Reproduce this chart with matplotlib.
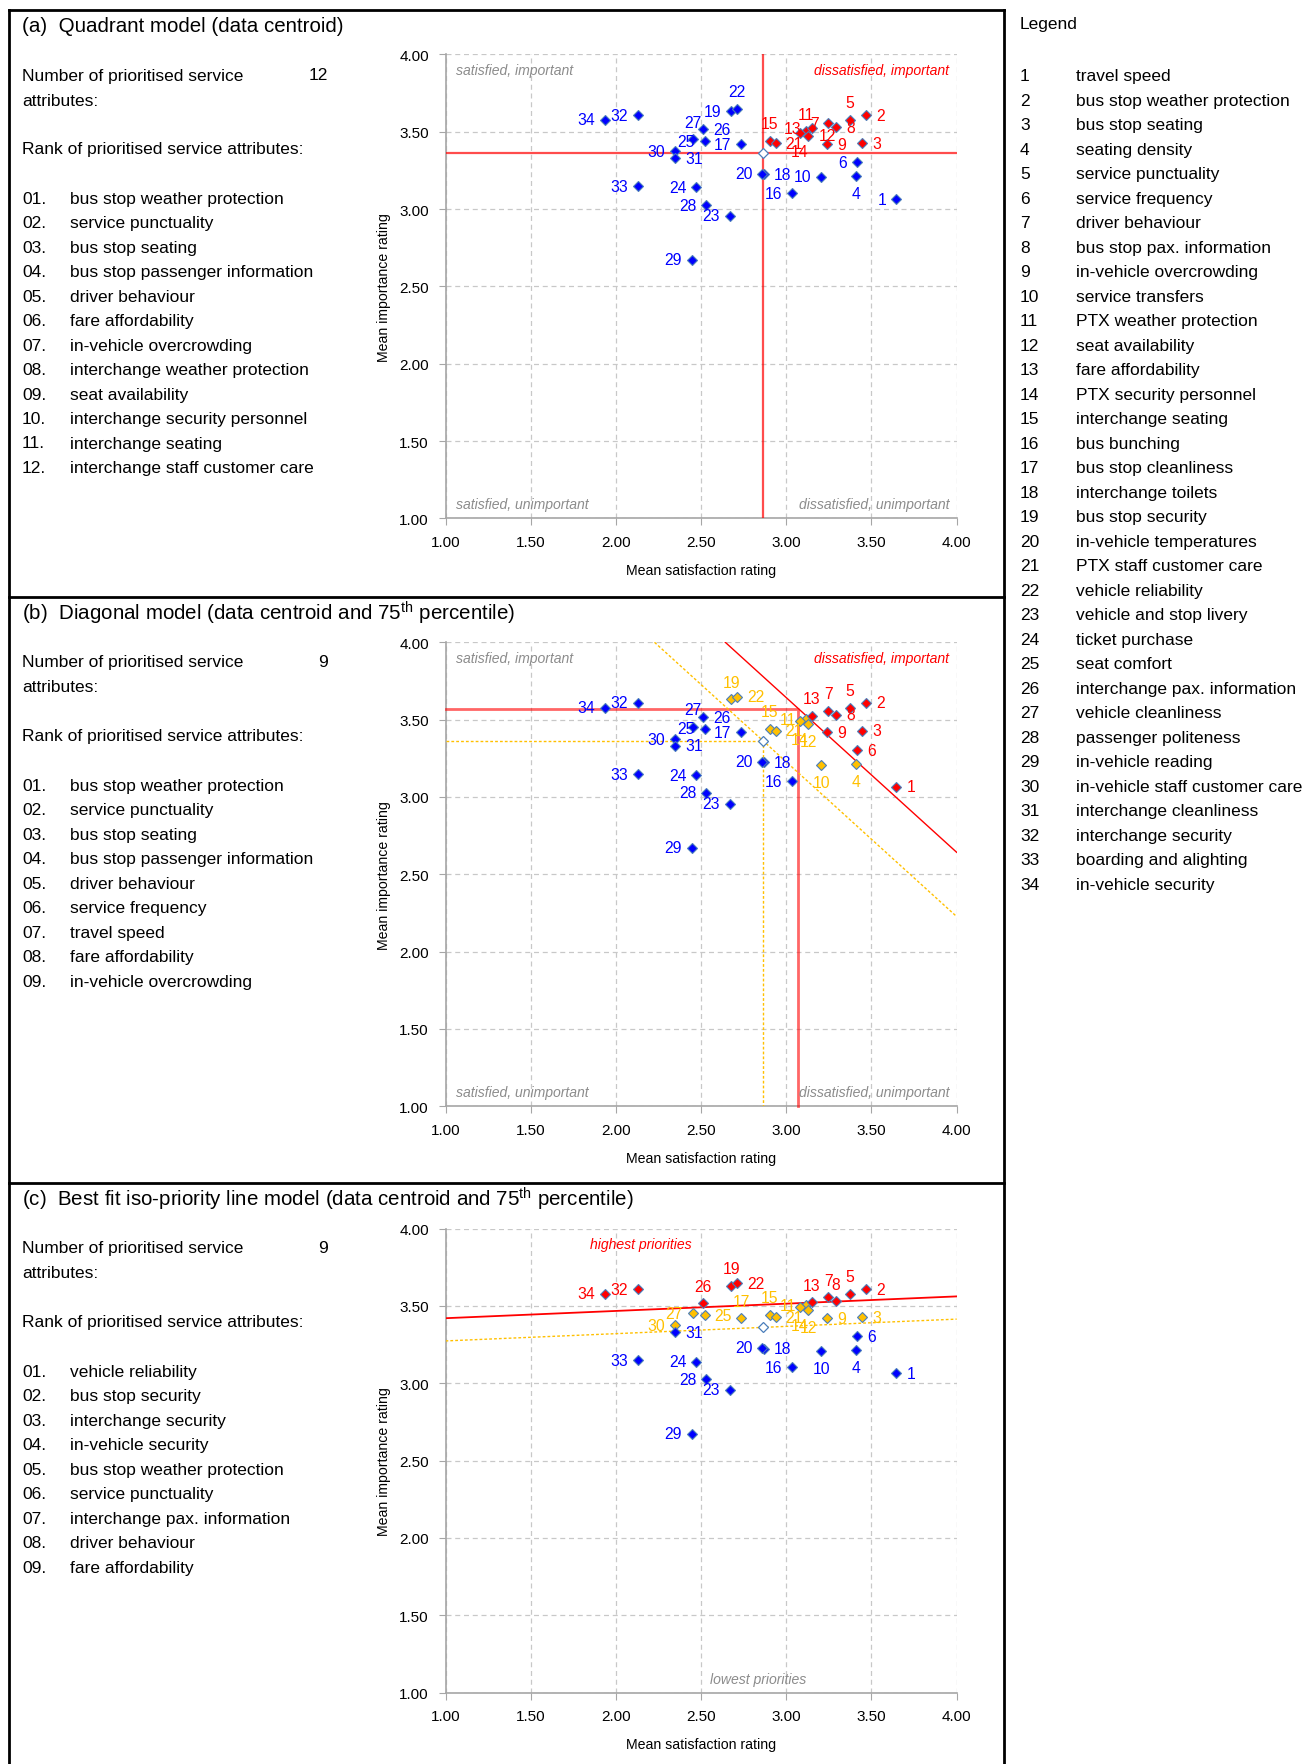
import matplotlib
matplotlib.use('Agg')
import matplotlib.pyplot as plt
from matplotlib import font_manager
from matplotlib.lines import Line2D
from matplotlib.ticker import FormatStrFormatter
import numpy as np

installed = {f.name for f in font_manager.fontManager.ttflist}
FONT = 'Liberation Sans Narrow' if 'Liberation Sans Narrow' in installed else 'Liberation Sans'
NARROW = FONT == 'Liberation Sans Narrow'
plt.rcParams['font.family'] = [FONT, 'DejaVu Sans']
plt.rcParams['mathtext.fontset'] = 'custom'
plt.rcParams['mathtext.rm'] = FONT
plt.rcParams['mathtext.it'] = FONT + ':italic'

# service attributes (id, name) and mean ratings
attr_ids = list(range(1, 35))
attr_names = [
    'travel speed', 'bus stop weather protection', 'bus stop seating', 'seating density',
    'service punctuality', 'service frequency', 'driver behaviour', 'bus stop pax. information',
    'in-vehicle overcrowding', 'service transfers', 'PTX weather protection', 'seat availability',
    'fare affordability', 'PTX security personnel', 'interchange seating', 'bus bunching',
    'bus stop cleanliness', 'interchange toilets', 'bus stop security', 'in-vehicle temperatures',
    'PTX staff customer care', 'vehicle reliability', 'vehicle and stop livery', 'ticket purchase',
    'seat comfort', 'interchange pax. information', 'vehicle cleanliness', 'passenger politeness',
    'in-vehicle reading', 'in-vehicle staff customer care', 'interchange cleanliness',
    'interchange security', 'boarding and alighting', 'in-vehicle security',
]
satisfaction = [3.646, 3.470, 3.444, 3.409, 3.372, 3.417, 3.247, 3.292, 3.241, 3.205,
                3.117, 3.129, 3.149, 3.078, 2.902, 3.033, 2.736, 2.867, 2.677, 2.859,
                2.937, 2.712, 2.671, 2.472, 2.521, 2.511, 2.452, 2.530, 2.446, 2.348,
                2.348, 2.131, 2.131, 1.937]
importance = [3.065, 3.608, 3.427, 3.216, 3.578, 3.302, 3.556, 3.530, 3.420, 3.209,
              3.504, 3.474, 3.524, 3.491, 3.442, 3.103, 3.420, 3.224, 3.631, 3.228,
              3.427, 3.647, 2.957, 3.140, 3.440, 3.517, 3.453, 3.026, 2.672, 3.373,
              3.330, 3.608, 3.147, 3.578]

# data centroid and 75th percentile thresholds
centroid_x = float(np.mean(satisfaction))
centroid_y = float(np.mean(importance))
p75_x, p75_y = 3.071, 3.571
# iso-priority lines: y = a + b*x
iso_slope = 0.047
iso_hi_at1 = 3.420

# which attributes are flagged in each model
red_a = [2, 5, 3, 8, 7, 13, 9, 11, 12, 14, 15, 21]
orange_a = []
red_b = [2, 5, 3, 8, 7, 6, 1, 13, 9]
orange_b = [19, 22, 15, 11, 21, 14, 12, 10, 4]
red_c = [22, 19, 32, 34, 2, 5, 26, 7, 13, 8]
orange_c = [27, 25, 17, 15, 21, 11, 14, 12, 9, 3, 30]

rank_names_a = ['bus stop weather protection', 'service punctuality', 'bus stop seating',
                'bus stop passenger information', 'driver behaviour', 'fare affordability',
                'in-vehicle overcrowding', 'interchange weather protection', 'seat availability',
                'interchange security personnel', 'interchange seating',
                'interchange staff customer care']
rank_names_b = ['bus stop weather protection', 'service punctuality', 'bus stop seating',
                'bus stop passenger information', 'driver behaviour', 'service frequency',
                'travel speed', 'fare affordability', 'in-vehicle overcrowding']
rank_names_c = ['vehicle reliability', 'bus stop security', 'interchange security',
                'in-vehicle security', 'bus stop weather protection', 'service punctuality',
                'interchange pax. information', 'driver behaviour', 'fare affordability']
count_a, count_b, count_c = 12, 9, 9

# label placement around each marker (default: left)
place_a = {22: 't', 27: 't', 26: 'r', 31: 'r', 18: 'r', 4: 'b', 2: 'r', 5: 't', 3: 'r',
           9: 'r', 8: 'r', 11: 't', 14: 'b', 12: 'r', 15: 't', 21: 'r'}
place_b = {19: 't', 22: 'r', 15: 't', 21: 'r', 14: 'b', 12: 'b', 13: 't', 7: 't', 5: 't',
           8: 'r', 2: 'r', 9: 'r', 3: 'r', 6: 'r', 4: 'b', 10: 'b', 1: 'r', 27: 't',
           26: 'r', 31: 'r', 18: 'r'}
place_c = {26: 't', 19: 't', 22: 'r', 25: 'r', 17: 't', 15: 't', 21: 'r', 14: 'b', 12: 'b',
           13: 't', 7: 't', 8: 't', 5: 't', 2: 'r', 9: 'r', 3: 'r', 6: 'r', 4: 'b', 10: 'b',
           1: 'r', 31: 'r', 18: 'r'}

BLUE, RED, ORANGE = '#0000FF', '#FF0000', '#FFC000'
EDGE = '#4A7EBB'
GRAY_TXT = '#8C8C8C'

# font sizes (the regular face is wider, so shrink it to keep line widths)
k = 1.0 if NARROW else 0.82
BODY = 15.3 * k
TITLE = 18.0 * k
TICK = 13.4 * k
AXLAB = 12.4 * k
NOTE = 12.3 * k
PT = 13.8 * k

W, H = 1306, 1765
fig = plt.figure(figsize=(W / 100, H / 100), dpi=100)


def fx(x):
    return x / W


def fy(y):
    return 1 - y / H


def hline(x0, x1, y, lw=2.0):
    fig.add_artist(Line2D([fx(x0), fx(x1)], [fy(y), fy(y)], color='black', lw=lw))


def vline(x, y0, y1, lw=2.0):
    fig.add_artist(Line2D([fx(x), fx(x)], [fy(y0), fy(y1)], color='black', lw=lw))


# panel frames
hline(9, 1004, 11)
hline(9, 1004, 598)
hline(9, 1004, 1184)
vline(9, 11, H)
vline(1004, 11, H)

OFFS = {'l': (-10, 0, 'right', 'center'), 'r': (10, 0, 'left', 'center'),
        't': (0, 17, 'center', 'center'), 'b': (0, -18, 'center', 'center')}


def side_text(top, title, count, rank_names):
    fig.text(fx(22), fy(top + 15), title, fontsize=TITLE, va='center', ha='left')
    fig.text(fx(22), fy(top + 65), 'Number of prioritised service', fontsize=BODY, va='center')
    fig.text(fx(22), fy(top + 90), 'attributes:', fontsize=BODY, va='center')
    fig.text(fx(328), fy(top + 65), str(count), fontsize=BODY, va='center', ha='right')
    fig.text(fx(22), fy(top + 139), 'Rank of prioritised service attributes:', fontsize=BODY,
             va='center')
    for n, name in enumerate(rank_names):
        y = top + 188.5 + n * 24.45
        fig.text(fx(22), fy(y), f'{n + 1:02d}.', fontsize=BODY, va='center')
        fig.text(fx(70), fy(y), name, fontsize=BODY, va='center')


def scatter_panel(ax_top, red_ids, orange_ids, place):
    ax = fig.add_axes([fx(445.5), fy(ax_top + 464), fx(956.7) - fx(445.5), 464 / H])
    ax.set_xlim(1, 4)
    ax.set_ylim(1, 4)
    ticks = np.arange(1, 4.01, 0.5)
    ax.set_xticks(ticks)
    ax.set_yticks(ticks)
    ax.xaxis.set_major_formatter(FormatStrFormatter('%.2f'))
    ax.yaxis.set_major_formatter(FormatStrFormatter('%.2f'))
    ax.grid(True, color='#C8C8C8', lw=0.9, ls=(0, (4, 3)))
    ax.set_axisbelow(True)
    for s in ('top', 'right'):
        ax.spines[s].set_visible(False)
    for s in ('left', 'bottom'):
        ax.spines[s].set_color('#A6A6A6')
        ax.spines[s].set_linewidth(1.2)
    ax.tick_params(direction='out', length=5, color='#A6A6A6', labelsize=TICK, pad=7)

    fig.text(fx(701), fy(ax_top + 516), 'Mean satisfaction rating', fontsize=AXLAB,
             ha='center', va='center')
    fig.text(fx(384), fy(ax_top + 232), 'Mean importance rating', fontsize=AXLAB,
             ha='center', va='center', rotation=90)

    for i, x, y in zip(attr_ids, satisfaction, importance):
        if i in red_ids:
            c = RED
        elif i in orange_ids:
            c = ORANGE
        else:
            c = BLUE
        ax.plot(x, y, marker='D', ms=5.2, mfc=c, mec=EDGE, mew=0.8, ls='none', zorder=5)
        dx, dy, ha, va = OFFS[place.get(i, 'l')]
        ax.annotate(str(i), (x, y), xytext=(dx, dy), textcoords='offset pixels',
                    ha=ha, va=va, color=c, fontsize=PT, zorder=6)
    ax.plot(centroid_x, centroid_y, marker='D', ms=5.2, mfc='white', mec=EDGE, mew=0.9,
            ls='none', zorder=4)
    return ax


def quadrant_labels(ax):
    kw = dict(fontsize=NOTE, style='italic', va='center')
    ax.text(1.06, 3.90, 'satisfied, important', color=GRAY_TXT, ha='left', **kw)
    ax.text(3.955, 3.90, 'dissatisfied, important', color=RED, ha='right', **kw)
    ax.text(1.06, 1.095, 'satisfied, unimportant', color=GRAY_TXT, ha='left', **kw)
    ax.text(3.955, 1.095, 'dissatisfied, unimportant', color=GRAY_TXT, ha='right', **kw)


# (a) quadrant model
side_text(11, '(a)  Quadrant model (data centroid)', count_a, rank_names_a)
ax_a = scatter_panel(55.4, red_a, orange_a, place_a)
ax_a.axvline(centroid_x, color=RED, alpha=0.7, lw=1.6, zorder=3)
ax_a.axhline(centroid_y, color=RED, alpha=0.7, lw=1.6, zorder=3)
quadrant_labels(ax_a)

# (b) diagonal model
side_text(598, r'(b)  Diagonal model (data centroid and 75$^{\mathrm{th}}$ percentile)',
          count_b, rank_names_b)
ax_b = scatter_panel(643.3, red_b, orange_b, place_b)
ax_b.plot([1, p75_x, p75_x], [p75_y, p75_y, 1], color=RED, alpha=0.6, lw=2.0, zorder=3,
          clip_on=False)
ax_b.plot([1, centroid_x, centroid_x], [centroid_y, centroid_y, 1], color=ORANGE, lw=1.0,
          ls=(0, (2, 1.5)), zorder=3)
sum_hi = p75_x + p75_y
sum_lo = centroid_x + centroid_y
ax_b.plot([sum_hi - 4, 4], [4, sum_hi - 4], color=RED, lw=1.0, zorder=3)
ax_b.plot([sum_lo - 4, 4], [4, sum_lo - 4], color=ORANGE, lw=1.0, ls=(0, (2, 1.5)), zorder=3)
quadrant_labels(ax_b)

# (c) best fit iso-priority line model
side_text(1184, r'(c)  Best fit iso-priority line model (data centroid and 75$^{\mathrm{th}}$ percentile)',
          count_c, rank_names_c)
ax_c = scatter_panel(1229.5, red_c, orange_c, place_c)
xs = np.array([1.0, 4.0])
ax_c.plot(xs, iso_hi_at1 + iso_slope * (xs - 1), color=RED, lw=1.3, zorder=3)
ax_c.plot(xs, centroid_y + iso_slope * (xs - centroid_x), color=ORANGE, lw=1.0,
          ls=(0, (2, 1.5)), zorder=3)
ax_c.text(2.147, 3.90, 'highest priorities', color=RED, fontsize=NOTE, style='italic',
          ha='center', va='center')
ax_c.text(2.834, 1.09, 'lowest priorities', color=GRAY_TXT, fontsize=NOTE, style='italic',
          ha='center', va='center')

# attribute legend column
fig.text(fx(1020), fy(25), 'Legend', fontsize=BODY, va='center')
for n, (i, name) in enumerate(zip(attr_ids, attr_names)):
    y = 76.7 + n * 24.5
    fig.text(fx(1020), fy(y), str(i), fontsize=BODY, va='center')
    fig.text(fx(1076), fy(y), name, fontsize=BODY, va='center')

fig.savefig('out.png', dpi=100)
